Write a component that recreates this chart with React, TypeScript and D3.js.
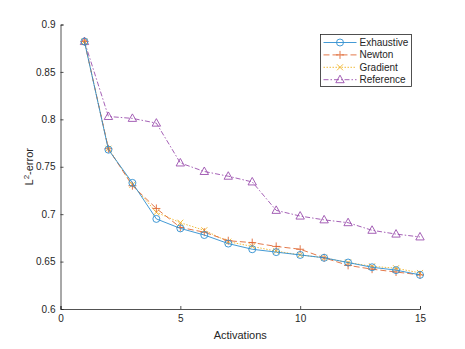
import React, { useEffect, useRef } from 'react';
import * as d3 from 'd3';

const activations = [1, 2, 3, 4, 5, 6, 7, 8, 9, 10, 11, 12, 13, 14, 15];
const exhaustive = [0.882, 0.768, 0.733, 0.695, 0.685, 0.678, 0.669, 0.663, 0.660, 0.657, 0.654, 0.649, 0.644, 0.641, 0.636];
const newton = [0.882, 0.769, 0.730, 0.706, 0.686, 0.681, 0.672, 0.670, 0.666, 0.663, 0.654, 0.646, 0.642, 0.639, 0.636];
const gradient = [0.882, 0.769, 0.731, 0.702, 0.691, 0.683, 0.671, 0.666, 0.661, 0.657, 0.654, 0.649, 0.645, 0.643, 0.638];
const reference = [0.882, 0.803, 0.801, 0.796, 0.754, 0.745, 0.740, 0.734, 0.704, 0.698, 0.694, 0.691, 0.683, 0.679, 0.676];

const xTicks = [0, 5, 10, 15];
const yTicks = [0.6, 0.65, 0.7, 0.75, 0.8, 0.85, 0.9];

const seriesNames = ['Exhaustive', 'Newton', 'Gradient', 'Reference'];
const seriesColors = ['#2f8fd0', '#e06a35', '#f0b429', '#9b4fae'];
const seriesDash = ['', '6,3', '1.5,1.5', '5,2,1.5,2'];
const seriesMarker = ['circle', 'plus', 'cross', 'triangle'];

const width = 465;
const height = 349;
const margin = { top: 24.5, right: 45, bottom: 40, left: 60.5 };
const font = 'Liberation Sans, Arial, sans-serif';

const App = () => {
  const svgRef = useRef<SVGSVGElement>(null);

  useEffect(() => {
    const svg = d3.select(svgRef.current);
    svg.selectAll('*').remove();

    const innerWidth = width - margin.left - margin.right;
    const innerHeight = 309 - margin.top;

    const x = d3.scaleLinear().domain([0, 15]).range([0, innerWidth]);
    const y = d3.scaleLinear().domain([0.6, 0.9]).range([innerHeight, 0]);

    const g = svg.append('g').attr('transform', `translate(${margin.left},${margin.top})`);

    // axes
    const xAxis = g.append('g')
      .attr('transform', `translate(0,${innerHeight})`)
      .call(d3.axisBottom(x).tickValues(xTicks).tickSize(-3).tickPadding(6).tickFormat(d3.format('d')));
    const yAxis = g.append('g')
      .call(d3.axisLeft(y).tickValues(yTicks).tickSize(-3).tickPadding(5).tickFormat(d => String(+d)));
    [xAxis, yAxis].forEach(a => {
      a.selectAll('path').attr('stroke', '#262626').attr('stroke-width', 0.8);
      a.selectAll('line').attr('stroke', '#262626').attr('stroke-width', 0.8);
      a.selectAll('text').attr('fill', '#262626').style('font-family', font).style('font-size', '10px');
    });

    // labels
    svg.append('text')
      .attr('x', margin.left + innerWidth / 2)
      .attr('y', 339)
      .attr('text-anchor', 'middle')
      .attr('fill', '#262626')
      .style('font-family', font)
      .style('font-size', '11px')
      .text('Activations');

    const yl = svg.append('text')
      .attr('transform', `translate(33,${margin.top + innerHeight / 2}) rotate(-90)`)
      .attr('text-anchor', 'middle')
      .attr('fill', '#262626')
      .style('font-family', font)
      .style('font-size', '11px');
    yl.append('tspan').text('L');
    yl.append('tspan').attr('dy', -4).style('font-size', '8px').text('2');
    yl.append('tspan').attr('dy', 4).text('-error');

    const allSeries = [exhaustive, newton, gradient, reference];

    const drawMarker = (sel: any, type: string, color: string, cx: number, cy: number) => {
      if (type === 'circle') {
        sel.append('circle').attr('cx', cx).attr('cy', cy).attr('r', 3.5)
          .attr('fill', 'none').attr('stroke', color).attr('stroke-width', 0.9);
      } else if (type === 'plus') {
        sel.append('path').attr('d', `M${cx - 4},${cy}H${cx + 4}M${cx},${cy - 4}V${cy + 4}`)
          .attr('stroke', color).attr('stroke-width', 0.9);
      } else if (type === 'cross') {
        sel.append('path').attr('d', `M${cx - 3},${cy - 3}L${cx + 3},${cy + 3}M${cx - 3},${cy + 3}L${cx + 3},${cy - 3}`)
          .attr('stroke', color).attr('stroke-width', 0.9);
      } else {
        sel.append('path').attr('d', `M${cx},${cy - 4.5}L${cx + 4.2},${cy + 3}L${cx - 4.2},${cy + 3}Z`)
          .attr('fill', 'none').attr('stroke', color).attr('stroke-width', 0.9);
      }
    };

    const line = d3.line<number>()
      .x((_, i) => x(activations[i]))
      .y(d => y(d));

    // draw in reverse so exhaustive sits on top
    [3, 2, 1, 0].forEach(si => {
      const data = allSeries[si];
      const color = seriesColors[si];
      g.append('path')
        .datum(data)
        .attr('fill', 'none')
        .attr('stroke', color)
        .attr('stroke-width', 0.9)
        .attr('stroke-dasharray', seriesDash[si] || null)
        .attr('d', line);
      const mg = g.append('g');
      data.forEach((v, i) => drawMarker(mg, seriesMarker[si], color, x(activations[i]), y(v)));
    });

    // legend
    const lg = svg.append('g').attr('transform', 'translate(320.5,34.5)');
    lg.append('rect').attr('width', 91).attr('height', 52)
      .attr('fill', 'white').attr('stroke', '#262626').attr('stroke-width', 0.8);
    seriesNames.forEach((name, i) => {
      const ly = 8 + i * 12.4;
      lg.append('line').attr('x1', 3).attr('x2', 36).attr('y1', ly).attr('y2', ly)
        .attr('stroke', seriesColors[i]).attr('stroke-width', 0.9)
        .attr('stroke-dasharray', seriesDash[i] || null);
      drawMarker(lg, seriesMarker[i], seriesColors[i], 19.5, ly);
      lg.append('text').attr('x', 39).attr('y', ly + 3.5)
        .attr('fill', '#262626')
        .style('font-family', font).style('font-size', '10px')
        .text(name);
    });
  }, []);

  return <svg ref={svgRef} width={width} height={height} style={{ display: 'block', position: 'absolute', left: 0, top: 0, background: 'white' }} />;
};

export default App;
